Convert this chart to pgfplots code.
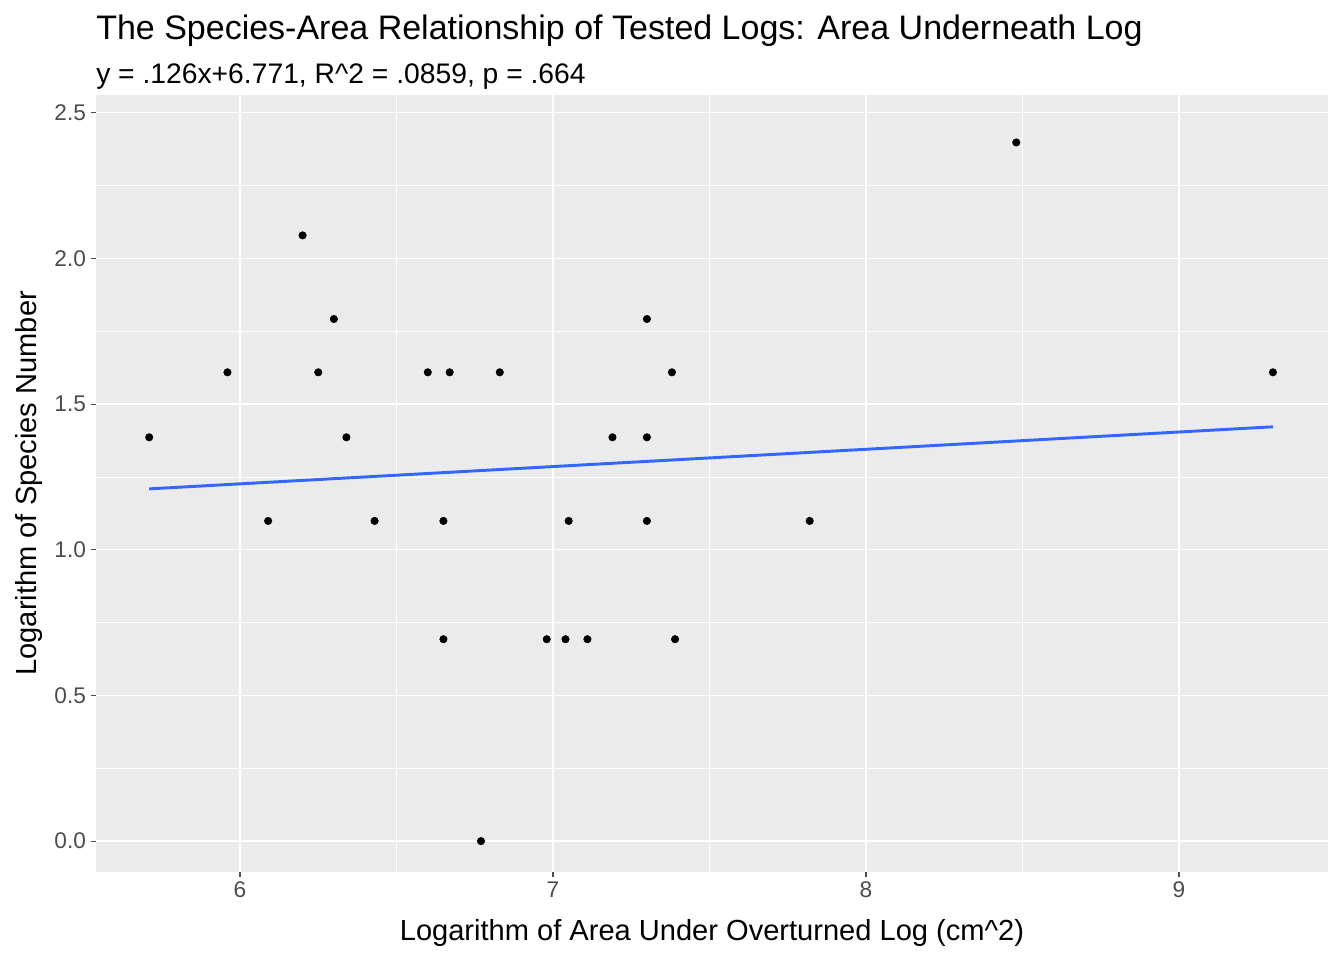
\documentclass[border=0pt]{standalone}
\usepackage{pgfplots}
\pgfplotsset{compat=1.18}
\usepackage{fontspec}
\setmainfont{Liberation Sans}
\begin{document}
\begin{tikzpicture}
\begin{axis}[
  scale only axis, width=924pt, height=583pt,
  xmin=5.54, xmax=9.476, ymin=-0.106, ymax=2.562,
  axis background/.style={fill=black!8},
  axis line style={draw=none},
  xtick={6,7,8,9}, ytick={0,0.5,1,1.5,2,2.5},
  yticklabel style={/pgf/number format/.cd,fixed,fixed zerofill,precision=1},
  /pgf/number format/assume math mode=true,
  minor xtick={5.5,6.5,7.5,8.5}, minor ytick={0.25,0.75,1.25,1.75,2.25},
  grid=both,
  major grid style={white, line width=1.1pt},
  minor grid style={white, line width=0.55pt},
  tick style={black!70, line width=0.8pt},
  major tick length=4pt, minor tick length=0pt,
  tick align=outside,
  xtick pos=bottom, ytick pos=left,
  ticklabel style={font=\fontsize{17}{20}\selectfont, text=black!70},
  clip=false,
]
\addplot[only marks, mark=*, mark size=2.8pt, black] coordinates {
(5.71,1.386)(5.96,1.609)(6.09,1.099)(6.20,2.079)(6.25,1.609)(6.30,1.792)
(6.34,1.386)(6.43,1.099)(6.60,1.609)(6.65,1.099)(6.65,0.693)(6.67,1.609)
(6.77,0)(6.83,1.609)(6.98,0.693)(7.04,0.693)(7.05,1.099)(7.11,0.693)
(7.19,1.386)(7.30,1.792)(7.30,1.386)(7.30,1.099)(7.38,1.609)(7.39,0.693)
(7.82,1.099)(8.48,2.398)(9.30,1.609)};
\addplot[color={rgb,255:red,51;green,102;blue,255}, line width=2.2pt] coordinates {(5.71,1.209)(9.30,1.422)};
\path (rel axis cs:0,0) ++(-72pt,-66pt) rectangle ++(1008pt,720pt);
\node[anchor=base west, font=\fontsize{25.5}{29}\selectfont, inner sep=0] at ([yshift=41pt]rel axis cs:0,1) {The Species-Area Relationship of Tested Logs: Area Underneath Log};
\node[anchor=base west, font=\fontsize{21.2}{24}\selectfont, inner sep=0] at ([yshift=8pt]rel axis cs:0,1) {y = .126x+6.771, R\string^2 = .0859, p = .664};
\node[anchor=base, font=\fontsize{21.8}{25}\selectfont, inner sep=0] at ([yshift=-51pt]rel axis cs:0.5,0) {Logarithm of Area Under Overturned Log (cm\string^2)};
\node[rotate=90, anchor=center, font=\fontsize{21.8}{25}\selectfont, inner sep=0] at ([xshift=-50pt]rel axis cs:0,0.5) {Logarithm of Species Number};
\end{axis}
\end{tikzpicture}
\end{document}
